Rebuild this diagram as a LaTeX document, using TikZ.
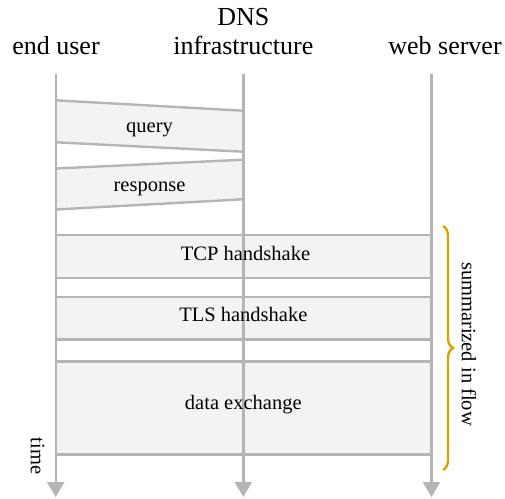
\documentclass[tikz,border=0pt]{standalone}
\usepackage{fontspec}
\setmainfont{Liberation Serif}
\usetikzlibrary{arrows.meta,decorations.pathreplacing}
\definecolor{lg}{HTML}{B5B5B5}
\definecolor{bf}{HTML}{F3F3F3}
\definecolor{br}{HTML}{E0A000}
\begin{document}
\begin{tikzpicture}[x=1pt,y=-1pt,
  head/.style={font=\fontsize{26}{30}\selectfont, inner sep=0pt, anchor=base},
  lbl/.style={font=\fontsize{20.5}{24}\selectfont, inner sep=0pt, anchor=base},
  life/.style={draw=lg, line width=2.4pt, -{Triangle[length=15pt,width=17pt]}},
  edge/.style={draw=lg, line width=2.4pt},
  fillbox/.style={fill=bf}]
\useasboundingbox (0,0) rectangle (505,498);
% coordinates
\coordinate (uT) at (55.7,74);
\coordinate (uB) at (55.7,497);
\coordinate (dT) at (243.3,74);
\coordinate (dB) at (243.3,497);
\coordinate (wT) at (431.5,74);
\coordinate (wB) at (431.5,497);
% query
\coordinate (q1) at (55.7,100.3);
\coordinate (q2) at (243.3,110.7);
\coordinate (q3) at (243.3,151.7);
\coordinate (q4) at (55.7,142.3);
\fill[fillbox] (q1) -- (q2) -- (q3) -- (q4) -- cycle;
\draw[edge] (q1) -- (q2) (q4) -- (q3);
% response
\coordinate (r1) at (55.7,168.5);
\coordinate (r2) at (243.3,159.7);
\coordinate (r3) at (243.3,199.3);
\coordinate (r4) at (55.7,209.5);
\fill[fillbox] (r1) -- (r2) -- (r3) -- (r4) -- cycle;
\draw[edge] (r1) -- (r2) (r4) -- (r3);
% TCP
\coordinate (t1) at (55.7,235);
\coordinate (t3) at (431.5,278);
\filldraw[fillbox, edge] (t1) rectangle (t3);
% TLS
\coordinate (s1) at (55.7,297);
\coordinate (s3) at (431.5,339.5);
\filldraw[fillbox, edge] (s1) rectangle (s3);
% data
\coordinate (x1) at (55.7,361.3);
\coordinate (x3) at (431.5,454.3);
\filldraw[fillbox, edge] (x1) rectangle (x3);
% lifelines
\draw[life] (uT) -- (uB);
\draw[life] (dT) -- (dB);
\draw[life] (wT) -- (wB);
% headers
\node[head] (hu) at (56,54.5) {end user};
\node[head] (hd1) at (243.3,25) {DNS};
\node[head] (hd2) at (243.3,54.5) {infrastructure};
\node[head] (hw) at (445,54.5) {web server};
% labels
\node[lbl] (lq) at (149.5,132.5) {query};
\node[lbl] (lr) at (149.5,191) {response};
\node[lbl] (lt) at (245.5,260.7) {TCP handshake};
\node[lbl] (ls) at (243.3,321.7) {TLS handshake};
\node[lbl] (lx) at (243.3,409.3) {data exchange};
\node[lbl, rotate=-90, anchor=center] (ltime) at (37.5,456) {time};
% brace
\coordinate (bt) at (443,226);
\coordinate (bb) at (443,470);
\draw[br, line width=2.4pt, decorate, decoration={brace, amplitude=10pt}] (bt) -- (bb);
\node[lbl, rotate=-90, anchor=center] (lsum) at (469,344) {summarized in flow};
\end{tikzpicture}
\end{document}
